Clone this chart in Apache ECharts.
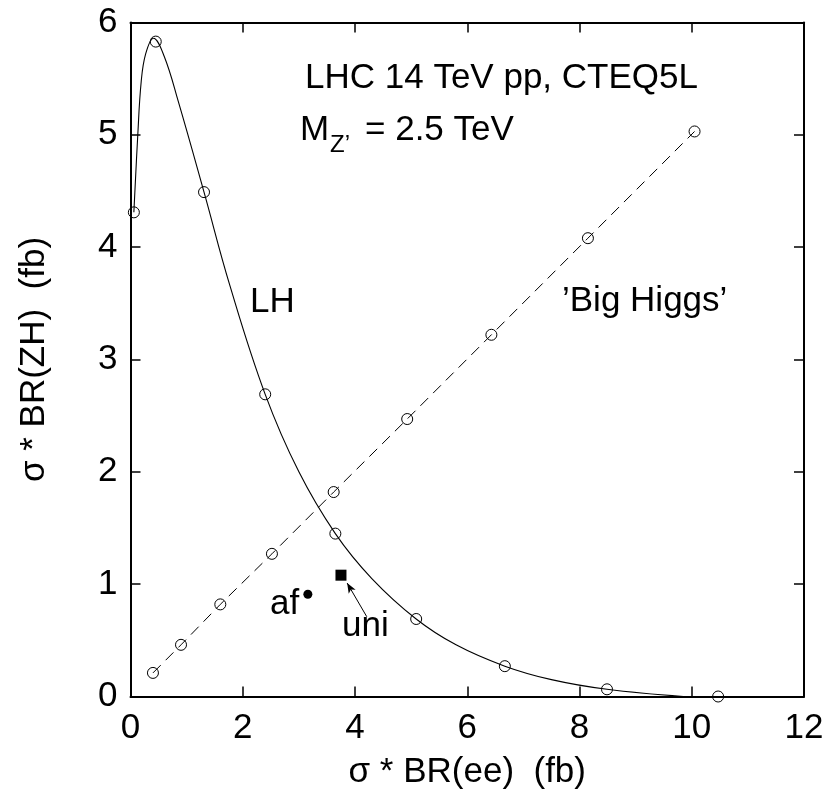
<!DOCTYPE html>
<html>
<head>
<meta charset="utf-8">
<script src="https://cdn.jsdelivr.net/npm/echarts@6/dist/echarts.min.js"></script>
<style>
  html, body { margin: 0; padding: 0; background: #fff; }
  #chart { width: 828px; height: 804px; }
</style>
</head>
<body>
<div id="chart"></div>
<script>
// LH curve
const lhCurveX = [0.06, 0.13, 0.19, 0.27, 0.41, 0.6, 0.85, 1.31, 1.77, 2.4, 3.0, 3.65, 4.3, 5.09, 5.8, 6.67, 7.5, 8.49, 9.85]
const lhCurveY = [4.31, 5.0, 5.47, 5.72, 5.86, 5.7, 5.3, 4.49, 3.66, 2.69, 2.0, 1.45, 1.05, 0.69, 0.46, 0.27, 0.15, 0.064, 0.0]
// LH open circles
const lhPointX = [0.06, 0.45, 1.31, 2.40, 3.65, 5.09, 6.67, 8.49, 10.47]
const lhPointY = [4.31, 5.83, 4.49, 2.69, 1.45, 0.69, 0.27, 0.064, 0.0]
// 'Big Higgs' dashed line with circles
const higgsX = [0.40, 0.90, 1.60, 2.52, 3.62, 4.93, 6.43, 8.15, 10.05]
const higgsY = [0.21, 0.46, 0.82, 1.27, 1.82, 2.47, 3.22, 4.08, 5.03]
// single models
const afPoint = [3.16, 0.91]
const uniPoint = [3.75, 1.08]
const uniArrowFrom = [4.21, 0.71]
const uniArrowTo = [3.86, 1.01]

const xTitle = 'σ * BR(ee)  (fb)'
const yTitle = 'σ * BR(ZH)  (fb)'

function zip (xs, ys) {
  return xs.map((x, i) => [x, ys[i]])
}

const font = 'Liberation Sans'
const fs = 35
const axisCommon = {
  type: 'value',
  axisLine: { show: true, onZero: false, lineStyle: { color: '#000', width: 2 } },
  axisTick: { show: true, inside: true, length: 10, lineStyle: { color: '#000', width: 1.5 } },
  splitLine: { show: false }
}

function txt (text, x, y, size) {
  return {
    type: 'text',
    x: x,
    y: y,
    style: {
      text: text,
      font: size + 'px "' + font + '"',
      fill: '#000',
      verticalAlign: 'middle'
    }
  }
}

var myChart = echarts.init(document.getElementById('chart'))
myChart.setOption({
  animation: false,
  backgroundColor: '#fff',
  textStyle: { fontFamily: font },
  grid: { left: 130.5, right: 24, top: 22.5, bottom: 107.5, containLabel: false },
  xAxis: [
    Object.assign({}, axisCommon, {
      position: 'bottom',
      min: 0, max: 12, interval: 2,
      axisLabel: { fontSize: fs, color: '#000', margin: 14, fontFamily: font },
      name: xTitle,
      nameLocation: 'middle',
      nameGap: 58,
      nameTextStyle: { fontSize: fs, color: '#000', fontFamily: font }
    }),
    Object.assign({}, axisCommon, {
      position: 'top',
      min: 0, max: 12, interval: 2,
      axisLabel: { show: false }
    })
  ],
  yAxis: [
    Object.assign({}, axisCommon, {
      position: 'left',
      min: 0, max: 6, interval: 1,
      axisLabel: { fontSize: fs, color: '#000', margin: 13, fontFamily: font },
      name: yTitle,
      nameLocation: 'middle',
      nameGap: 79,
      nameTextStyle: { fontSize: fs, color: '#000', fontFamily: font }
    }),
    Object.assign({}, axisCommon, {
      position: 'right',
      min: 0, max: 6, interval: 1,
      axisLabel: { show: false }
    })
  ],
  series: [
    {
      name: 'LH',
      type: 'line',
      data: zip(lhCurveX, lhCurveY),
      smooth: 0.4,
      showSymbol: false,
      lineStyle: { color: '#000', width: 1.1 }
    },
    {
      name: 'LH points',
      type: 'scatter',
      data: zip(lhPointX, lhPointY),
      symbol: 'circle',
      symbolSize: 11,
      clip: false,
      itemStyle: { color: 'transparent', borderColor: '#000', borderWidth: 1, opacity: 1 }
    },
    {
      name: 'Big Higgs',
      type: 'line',
      data: zip(higgsX, higgsY),
      symbol: 'circle',
      symbolSize: 11,
      showAllSymbol: true,
      itemStyle: { color: 'transparent', borderColor: '#000', borderWidth: 1, opacity: 1 },
      lineStyle: { color: '#000', width: 1, type: [11, 7] }
    },
    {
      name: 'af',
      type: 'scatter',
      data: [afPoint],
      symbol: 'circle',
      symbolSize: 9,
      itemStyle: { color: '#000', opacity: 1 }
    },
    {
      name: 'uni',
      type: 'scatter',
      data: [uniPoint],
      symbol: 'rect',
      symbolSize: 11,
      itemStyle: { color: '#000', opacity: 1 },
      markLine: {
        silent: true,
        symbol: ['none', 'arrow'],
        symbolSize: [6, 10],
        label: { show: false },
        lineStyle: { color: '#000', width: 1, type: 'solid', opacity: 1 },
        data: [[{ coord: uniArrowFrom }, { coord: uniArrowTo }]]
      }
    }
  ],
  graphic: [
    txt('LHC 14 TeV pp, CTEQ5L', 305, 78.3, fs),
    txt('M', 300, 130.3, fs),
    txt('Z’', 330, 145, 24),
    txt('= 2.5 TeV', 365, 130.3, fs),
    txt('LH', 250, 302.8, fs),
    txt('’Big Higgs’', 562, 301, fs),
    txt('af', 270, 604.5, fs),
    txt('uni', 342, 626, fs)
  ]
})
</script>
</body>
</html>
